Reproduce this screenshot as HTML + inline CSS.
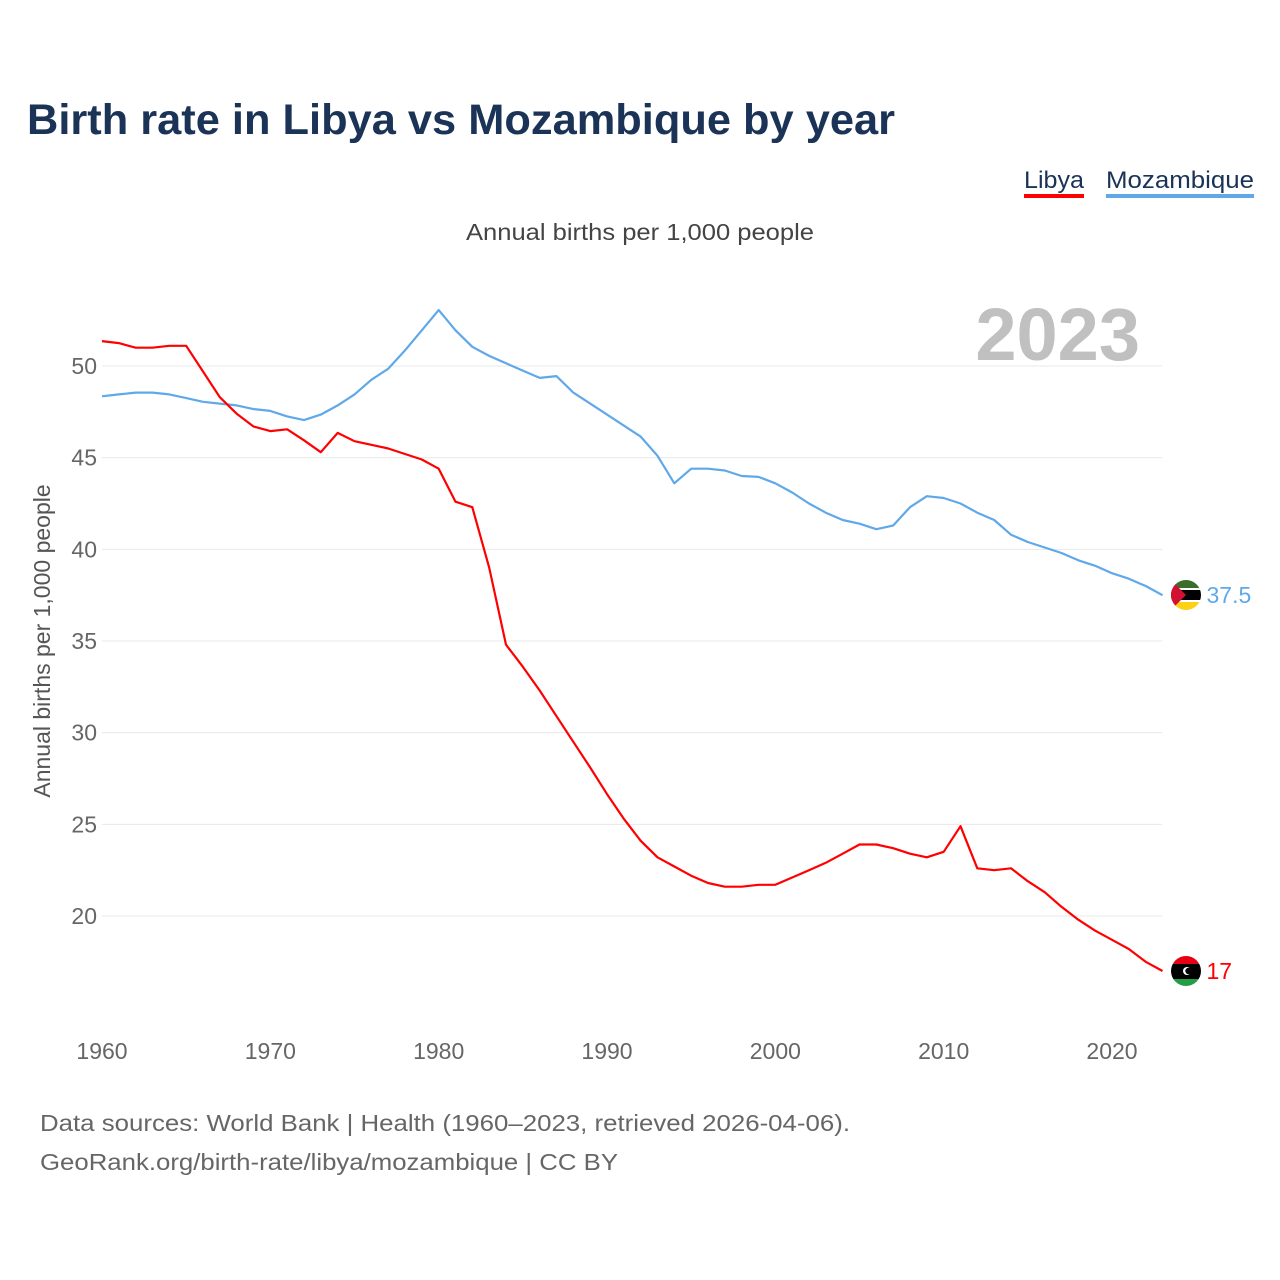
<!DOCTYPE html>
<html><head><meta charset="utf-8">
<style>
body{margin:0;background:#fff;width:1280px;height:1280px;overflow:hidden;font-family:"Liberation Sans",sans-serif}
svg{display:block}
</style></head>
<body>
<svg id="chart" width="1280" height="1280">
<defs>
<clipPath id="cl"><circle cx="1186" cy="971" r="15"/></clipPath>
<clipPath id="cm"><circle cx="1186" cy="595" r="15"/></clipPath>
</defs>
<text x="27" y="134" font-size="43" font-weight="bold" fill="#1a3357" textLength="868" lengthAdjust="spacingAndGlyphs">Birth rate in Libya vs Mozambique by year</text>
<g>
<text x="1024" y="188" font-size="24" fill="#1a3357" textLength="60" lengthAdjust="spacingAndGlyphs">Libya</text>
<rect x="1024" y="194" width="60" height="4" fill="#ff0000"/>
<text x="1106" y="188" font-size="24" fill="#1a3357" textLength="148" lengthAdjust="spacingAndGlyphs">Mozambique</text>
<rect x="1106" y="194" width="148" height="4" fill="#5fa8ea"/>
</g>
<text x="466" y="240" font-size="23" fill="#444" textLength="348" lengthAdjust="spacingAndGlyphs">Annual births per 1,000 people</text>
<text x="1140" y="360" font-size="74" font-weight="bold" fill="#c0c0c0" text-anchor="end">2023</text>
<text transform="translate(50,641) rotate(-90)" font-size="23" fill="#555" text-anchor="middle">Annual births per 1,000 people</text>
<g id="grid"></g><g id="yt"></g><g id="xt"></g><g id="lines"></g>
<g clip-path="url(#cl)">
<rect x="1171" y="956" width="30" height="8" fill="#e70013"/><rect x="1171" y="964" width="30" height="15" fill="#000"/><rect x="1171" y="979" width="30" height="8" fill="#239e46"/>
<circle cx="1187" cy="971" r="4" fill="#fff"/><circle cx="1188.5" cy="971" r="3.2" fill="#000"/>
</g>
<g clip-path="url(#cm)">
<rect x="1171" y="580" width="30" height="10" fill="#3a6e2a"/><rect x="1171" y="590" width="30" height="10" fill="#000"/><rect x="1171" y="588" width="30" height="2" fill="#fff"/><rect x="1171" y="600" width="30" height="2" fill="#fff"/><rect x="1171" y="602" width="30" height="8" fill="#fcd116"/>
<polygon points="1171,580 1186,595 1171,610" fill="#d21034"/>
</g>
<text x="40" y="1131" font-size="23" fill="#666" textLength="810" lengthAdjust="spacingAndGlyphs">Data sources: World Bank | Health (1960–2023, retrieved 2026-04-06).</text>
<text x="40" y="1170" font-size="23" fill="#666" textLength="578" lengthAdjust="spacingAndGlyphs">GeoRank.org/birth-rate/libya/mozambique | CC BY</text>
</svg>
<script>
const years=[];for(let y=1960;y<=2023;y++)years.push(y);
const libya=[51.36,51.25,51.0,51.0,51.1,51.1,49.7,48.3,47.4,46.7,46.45,46.55,45.95,45.3,46.35,45.9,45.7,45.5,45.2,44.9,44.4,42.6,42.3,39.0,34.8,33.6,32.3,30.9,29.5,28.1,26.65,25.3,24.1,23.2,22.7,22.2,21.8,21.6,21.6,21.7,21.7,22.1,22.5,22.9,23.4,23.9,23.9,23.7,23.4,23.2,23.5,24.9,22.6,22.5,22.6,21.9,21.3,20.5,19.8,19.2,18.7,18.2,17.5,17.0];
const mozambique=[48.35,48.45,48.55,48.55,48.45,48.25,48.05,47.95,47.85,47.65,47.55,47.25,47.05,47.35,47.85,48.45,49.25,49.85,50.85,51.95,53.05,51.95,51.05,50.55,50.15,49.75,49.35,49.45,48.55,47.95,47.35,46.75,46.15,45.1,43.6,44.4,44.4,44.3,44.0,43.95,43.6,43.1,42.5,42.0,41.6,41.4,41.1,41.3,42.3,42.9,42.8,42.5,42.0,41.6,40.8,40.4,40.1,39.8,39.4,39.1,38.7,38.4,38.0,37.5];
const yTicks=[20,25,30,35,40,45,50];
const xTicks=[1960,1970,1980,1990,2000,2010,2020];
const X=v=>102+(v-1960)*(1010/60);
const Y=v=>916-(v-20)*(550/30);
const NS="http://www.w3.org/2000/svg";
function mk(t,a,p){const e=document.createElementNS(NS,t);for(const k in a)e.setAttribute(k,a[k]);p.appendChild(e);return e;}
const grid=document.getElementById('grid'),yt=document.getElementById('yt'),xt=document.getElementById('xt'),lines=document.getElementById('lines');
yTicks.forEach(v=>{
 const l=mk('line',{x1:102,x2:1162,y1:Y(v),y2:Y(v),stroke:'#e8e8e8','stroke-width':1},grid);
 
 
 const t=mk('text',{x:97,y:Y(v)+8,'font-size':23,fill:'#666','text-anchor':'end'},yt);t.textContent=v;
 
 
});
xTicks.forEach(v=>{
 const t=mk('text',{x:X(v),y:1059,'font-size':23,fill:'#666','text-anchor':'middle'},xt);t.textContent=v;
 
 
});
function series(vals,color,name,label){
 const d=vals.map((v,i)=>(i?'L':'M')+X(years[i]).toFixed(1)+','+Y(v).toFixed(1)).join('');
 const p=mk('path',{d:d,fill:'none',stroke:color,'stroke-width':2.2,'stroke-linejoin':'round'},lines);
 
 
 const last=vals[vals.length-1],cx=X(2023)+24,cy=Y(last);
 const t=mk('text',{x:cx+20,y:cy+8,'font-size':23,fill:color},lines);t.textContent=label;
 
 
}
series(mozambique,'#5fa8ea','mozambique','37.5');
series(libya,'#ff0000','libya','17');
</script>
</body></html>
